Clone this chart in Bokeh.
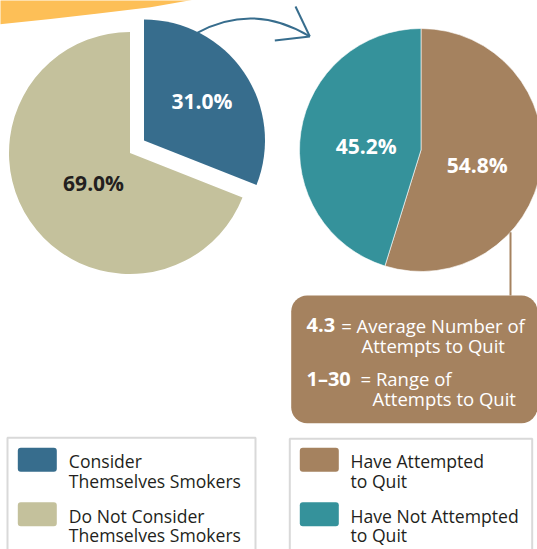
import math
from bokeh.plotting import figure
from bokeh.models import BoxAnnotation, Range1d
from bokeh.core.properties import value
from bokeh.embed import file_html
from bokeh.resources import INLINE

# ---------------- data ----------------
smoker_labels = ["Consider\nThemselves Smokers", "Do Not Consider\nThemselves Smokers"]
smoker_pct = [31.0, 69.0]
smoker_colors = ["#376d8d", "#c4c19c"]
smoker_text_colors = ["white", "#231f20"]

quit_labels = ["Have Attempted\nto Quit", "Have Not Attempted\nto Quit"]
quit_pct = [54.8, 45.2]
quit_colors = ["#a5825f", "#35929b"]

callout_values = ["4.3", "1\u201330"]
callout_texts = [["= Average Number of", "Attempts to Quit"], ["= Range of", "Attempts to Quit"]]

# ---------------- helpers (reference pixel -> data) ----------------
PAGE_W, PAGE_H = 537, 549
def Y(py):
    return PAGE_H - py

FONT = value("Open Sans")
DARK = "#231f20"

p = figure(width=PAGE_W, height=PAGE_H, x_range=Range1d(0, PAGE_W), y_range=Range1d(0, PAGE_H),
           output_backend="svg", toolbar_location=None,
           x_axis_location=None, y_axis_location=None, min_border=0)
p.grid.visible = False
p.outline_line_color = None
p.background_fill_color = "white"
p.border_fill_color = "white"

# orange banner (decoration)
p.patch(x=[-2, -2, 50, 100, 150, 200, -2], y=[Y(-2), Y(24), Y(18.5), Y(12.8), Y(6.7), Y(-2), Y(-2)],
        fill_color="#fdbf57", line_color=None)

# ---------------- left pie (exploded) ----------------
LC = (129.5, Y(152.5))
R = 121
EXPLODE = (14.0, 12.5)
label_r_left = [70, 47]
label_nudge_left = [0, 5]
start = 90.0
for i, pct in enumerate(smoker_pct):
    sweep = pct / 100 * 360
    a_end = start
    a_start = start - sweep
    cx, cy = LC
    if i == 0:
        cx += EXPLODE[0]
        cy += EXPLODE[1]
    p.wedge(x=[cx], y=[cy], radius=R, start_angle=math.radians(a_start), end_angle=math.radians(a_end),
            fill_color=smoker_colors[i], line_color=None)
    mid = math.radians((a_start + a_end) / 2 + label_nudge_left[i])
    p.text(x=[cx + label_r_left[i] * math.cos(mid)], y=[cy + label_r_left[i] * math.sin(mid)],
           text=[f"{pct:.1f}%"], text_font=FONT, text_font_size="21px", text_font_style="bold",
           text_color=smoker_text_colors[i], text_align="center", text_baseline="middle")
    start = a_start

# curved arrow
ARROW = "#376d8d"
p.quadratic(x0=[196.7], y0=[Y(32.3)], x1=[309.3], y1=[Y(36)], cx=[253], cy=[Y(1.8)],
            line_color=ARROW, line_width=2)
p.segment(x0=[309.3, 309.3], y0=[Y(36), Y(36)], x1=[295, 274.3], y1=[Y(6), Y(40)],
          line_color=ARROW, line_width=2)

# ---------------- right pie ----------------
RC = (420.5, Y(149.5))
RR = 121.5
label_r_right = [58, 55]
label_nudge_right = [-6, 4]
start = 90.0
for i, pct in enumerate(quit_pct):
    sweep = pct / 100 * 360
    a_end = start
    a_start = start - sweep
    p.wedge(x=[RC[0]], y=[RC[1]], radius=RR, start_angle=math.radians(a_start), end_angle=math.radians(a_end),
            fill_color=quit_colors[i], line_color="white", line_width=0.6)
    mid = math.radians((a_start + a_end) / 2 + label_nudge_right[i])
    p.text(x=[RC[0] + label_r_right[i] * math.cos(mid)], y=[RC[1] + label_r_right[i] * math.sin(mid)],
           text=[f"{pct:.1f}%"], text_font=FONT, text_font_size="21px", text_font_style="bold",
           text_color="white", text_align="center", text_baseline="middle")
    start = a_start

# connector + callout box
BROWN = quit_colors[0]
lx = 510
ly0 = RC[1] - math.sqrt(RR ** 2 - (lx - RC[0]) ** 2)
p.segment(x0=[lx], y0=[ly0], x1=[lx], y1=[Y(295)], line_color=BROWN, line_width=2)
p.add_layout(BoxAnnotation(left=290.7, right=537, top=Y(295), bottom=Y(422.7), level="underlay",
                           border_radius=16, fill_color=BROWN, fill_alpha=1, line_color=None))

# text centres (cap-height middle) in reference pixels
val_x = 306
val_mid = [324.7, 378.0]
eq_x = [340.7, 360]
cont_x = [361, 372]
for i, v in enumerate(callout_values):
    p.text(x=[val_x], y=[Y(val_mid[i])], text=[v], text_font=FONT, text_font_size="20px",
           text_font_style="bold", text_color="white", text_baseline="middle")
    p.text(x=[eq_x[i]], y=[Y(val_mid[i])], text=[callout_texts[i][0]], text_font=FONT,
           text_font_size="18.5px", text_color="white", text_baseline="middle")
    p.text(x=[cont_x[i]], y=[Y(val_mid[i] + 20.3)], text=[callout_texts[i][1]], text_font=FONT,
           text_font_size="18.5px", text_color="white", text_baseline="middle")

# ---------------- legends ----------------
BORDER = "#d9d9d9"
p.quad(left=[7, 289.3], right=[255, 531.7], top=[Y(437.3), Y(438.3)], bottom=[-10, -10],
       fill_color=None, line_color=BORDER, line_width=2)

def legend(x_sw, x_txt, labels, colors):
    for i, (lab, col) in enumerate(zip(labels, colors)):
        top = 447.3 + i * 54.4
        p.add_layout(BoxAnnotation(left=x_sw, right=x_sw + 39, top=Y(top), bottom=Y(top + 24),
                                   level="underlay", border_radius=3, fill_color=col,
                                   fill_alpha=1, line_color=None))
        for j, line in enumerate(lab.split("\n")):
            p.text(x=[x_txt], y=[Y(top + 13.3 + j * 19.4)], text=[line], text_font=FONT,
                   text_font_size="17.6px", text_color=DARK, text_baseline="middle")

legend(17.3, 68.3, smoker_labels, smoker_colors)
legend(299.3, 350, quit_labels, quit_colors)

open("out.html", "w").write(file_html(p, INLINE))
